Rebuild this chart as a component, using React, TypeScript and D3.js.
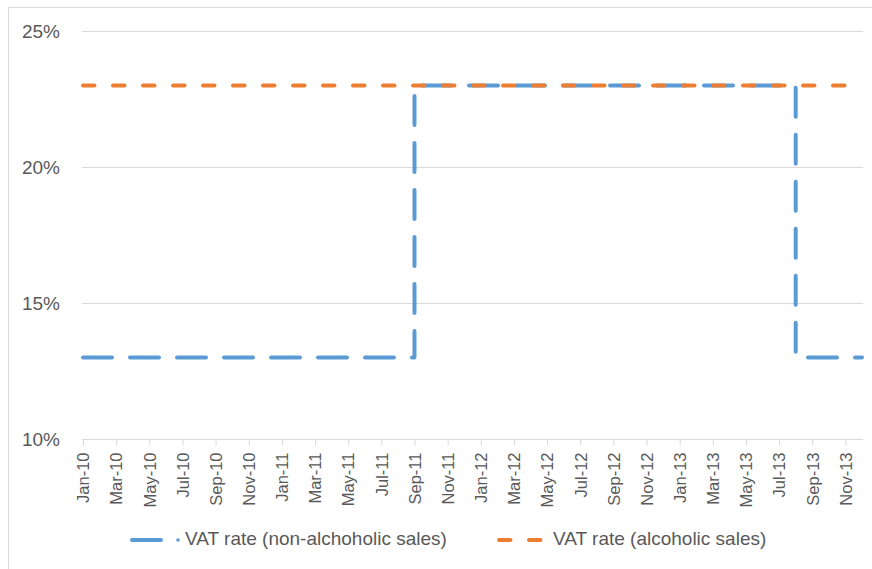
import React, { useEffect, useRef } from 'react';
import * as d3 from 'd3';

// monthly categories on the date axis
const months = [
  'Jan-10', 'Feb-10', 'Mar-10', 'Apr-10', 'May-10', 'Jun-10', 'Jul-10', 'Aug-10', 'Sep-10', 'Oct-10', 'Nov-10', 'Dec-10',
  'Jan-11', 'Feb-11', 'Mar-11', 'Apr-11', 'May-11', 'Jun-11', 'Jul-11', 'Aug-11', 'Sep-11', 'Oct-11', 'Nov-11', 'Dec-11',
  'Jan-12', 'Feb-12', 'Mar-12', 'Apr-12', 'May-12', 'Jun-12', 'Jul-12', 'Aug-12', 'Sep-12', 'Oct-12', 'Nov-12', 'Dec-12',
  'Jan-13', 'Feb-13', 'Mar-13', 'Apr-13', 'May-13', 'Jun-13', 'Jul-13', 'Aug-13', 'Sep-13', 'Oct-13', 'Nov-13', 'Dec-13',
];

const tickLabels = [
  'Jan-10', 'Mar-10', 'May-10', 'Jul-10', 'Sep-10', 'Nov-10',
  'Jan-11', 'Mar-11', 'May-11', 'Jul-11', 'Sep-11', 'Nov-11',
  'Jan-12', 'Mar-12', 'May-12', 'Jul-12', 'Sep-12', 'Nov-12',
  'Jan-13', 'Mar-13', 'May-13', 'Jul-13', 'Sep-13', 'Nov-13',
];

// VAT rate (%) per month
const nonAlcoholic = [
  13, 13, 13, 13, 13, 13, 13, 13, 13, 13, 13, 13,
  13, 13, 13, 13, 13, 13, 13, 13, 23, 23, 23, 23,
  23, 23, 23, 23, 23, 23, 23, 23, 23, 23, 23, 23,
  23, 23, 23, 23, 23, 23, 23, 13, 13, 13, 13, 13,
];

const alcoholic = [
  23, 23, 23, 23, 23, 23, 23, 23, 23, 23, 23, 23,
  23, 23, 23, 23, 23, 23, 23, 23, 23, 23, 23, 23,
  23, 23, 23, 23, 23, 23, 23, 23, 23, 23, 23, 23,
  23, 23, 23, 23, 23, 23, 23, 23, 23, 23, 23, 23,
];

const yTicks = [10, 15, 20, 25];

const seriesNames = ['VAT rate (non-alchoholic sales)', 'VAT rate (alcoholic sales)'];

const BLUE = '#5b9bd5';
const ORANGE = '#ed7d31';
const GRID = '#d9d9d9';
const TEXT = '#595959';
const FONT = '"Liberation Sans", Arial, sans-serif';

export default function App() {
  const svgRef = useRef<SVGSVGElement>(null);

  useEffect(() => {
    const svg = d3.select(svgRef.current);
    svg.selectAll('*').remove();

    const width = 872;
    const height = 569;
    const left = 83;
    const right = 862;
    const top = 31;
    const bottom = 439;

    svg.attr('width', width).attr('height', height);

    // chart area border
    svg.append('rect')
      .attr('x', 8.5).attr('y', 7.5)
      .attr('width', 900).attr('height', 600)
      .attr('fill', '#fff')
      .attr('stroke', GRID);

    const x = d3.scalePoint<string>().domain(months).range([left, right]);
    const y = d3.scaleLinear().domain([10, 25]).range([bottom, top]);

    // gridlines
    svg.append('g')
      .selectAll('line')
      .data(yTicks.filter(t => t !== 10))
      .join('line')
      .attr('x1', left - 1).attr('x2', right + 1)
      .attr('y1', d => Math.round(y(d)) + 0.5)
      .attr('y2', d => Math.round(y(d)) + 0.5)
      .attr('stroke', GRID);

    // y labels
    svg.append('g')
      .selectAll('text')
      .data(yTicks)
      .join('text')
      .attr('x', 60)
      .attr('y', d => y(d))
      .attr('dy', '0.35em')
      .attr('text-anchor', 'end')
      .attr('fill', TEXT)
      .style('font-family', FONT)
      .style('font-size', '19px')
      .text(d => `${d}%`);

    // x axis
    const xAxis = d3.axisBottom(x)
      .tickValues(tickLabels)
      .tickSize(6)
      .tickSizeOuter(0);

    const gx = svg.append('g')
      .attr('transform', `translate(0,${Math.round(bottom) + 0.5})`)
      .call(xAxis);
    gx.select('.domain').attr('stroke', GRID).attr('d', `M${left - 1},0H${right + 1}`);
    gx.selectAll('.tick line').attr('stroke', GRID);
    gx.selectAll('.tick text')
      .attr('transform', 'rotate(-90)')
      .attr('x', -13)
      .attr('y', 0)
      .attr('dy', '0.35em')
      .attr('text-anchor', 'end')
      .attr('fill', TEXT)
      .style('font-family', FONT)
      .style('font-size', '16.5px');

    // lines
    const line = d3.line<number>()
      .x((_, i) => x(months[i]) as number)
      .y(d => y(d))
      .curve(d3.curveStepAfter);

    svg.append('path')
      .datum(nonAlcoholic)
      .attr('d', line)
      .attr('fill', 'none')
      .attr('stroke', BLUE)
      .attr('stroke-width', 4)
      .attr('stroke-linecap', 'round')
      .attr('stroke-linejoin', 'round')
      .attr('stroke-dasharray', '29,18');

    svg.append('path')
      .datum(alcoholic)
      .attr('d', line)
      .attr('fill', 'none')
      .attr('stroke', ORANGE)
      .attr('stroke-width', 4)
      .attr('stroke-linecap', 'round')
      .attr('stroke-dasharray', '11.5,18.5');

    // legend
    const legend = svg.append('g');
    const ly = 540;

    legend.append('line')
      .attr('x1', 132).attr('x2', 161)
      .attr('y1', ly).attr('y2', ly)
      .attr('stroke', BLUE)
      .attr('stroke-width', 4)
      .attr('stroke-linecap', 'round');

    legend.append('circle')
      .attr('cx', 178).attr('cy', ly)
      .attr('r', 1.8)
      .attr('fill', BLUE);

    legend.append('text')
      .attr('x', 185).attr('y', 545)
      .attr('fill', TEXT)
      .style('font-family', FONT)
      .style('font-size', '19px')
      .text(seriesNames[0]);

    legend.append('line')
      .attr('x1', 499).attr('x2', 541)
      .attr('y1', ly).attr('y2', ly)
      .attr('stroke', ORANGE)
      .attr('stroke-width', 4)
      .attr('stroke-linecap', 'round')
      .attr('stroke-dasharray', '11.5,18.5');

    legend.append('text')
      .attr('x', 553).attr('y', 545)
      .attr('fill', TEXT)
      .style('font-family', FONT)
      .style('font-size', '19px')
      .text(seriesNames[1]);
  }, []);

  return (
    <div style={{ position: 'absolute', left: 0, top: 0 }}>
      <svg ref={svgRef} style={{ display: 'block' }} />
    </div>
  );
}
